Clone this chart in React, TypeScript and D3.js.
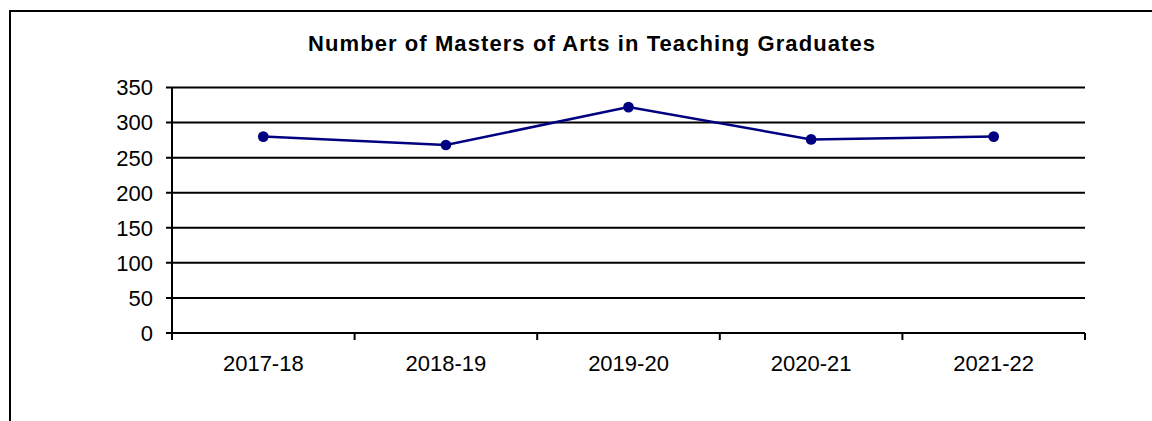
import React from 'react';
import * as d3 from 'd3';

const title = 'Number of Masters of Arts in Teaching Graduates';
const years = ['2017-18', '2018-19', '2019-20', '2020-21', '2021-22'];
const graduates = [280, 268, 322, 276, 280];
const yTicks = [0, 50, 100, 150, 200, 250, 300, 350];

export default function App() {
  const width = 1152;
  const height = 421;
  const left = 172;
  const right = 1085;
  const top = 87.5;
  const bottom = 333;

  const x = d3.scaleBand<string>().domain(years).range([left, right]);
  const y = d3.scaleLinear().domain([0, 350]).range([bottom, top]);

  const line = d3.line<number>()
    .x((_, i) => (x(years[i]) as number) + x.bandwidth() / 2)
    .y(d => y(d));

  // blurry rounded diamond markers in the original
  const marker = d3.symbol().type(d3.symbolCircle).size(90)();
  const font = 'Arial, "Liberation Sans", sans-serif';
  const bounds = years.map(c => x(c) as number).concat([right]);

  return (
    <svg width={width} height={height} style={{ position: 'absolute', left: 0, top: 0, background: '#fff' }}>
      <rect x={10} y={11} width={1300} height={600} fill="#fff" stroke="#000" strokeWidth={2} />
      <text x={308} y={51} fontFamily={font} fontWeight="bold" fontSize={22} textLength={567} lengthAdjust="spacing">{title}</text>

      {yTicks.map(t => (
        <g key={t}>
          <line x1={left - 6} x2={right} y1={y(t)} y2={y(t)} stroke="#000" strokeWidth={2} />
          <text x={153} y={y(t)} dy="0.36em" textAnchor="end" fontFamily={font} fontSize={22}>{t}</text>
        </g>
      ))}

      <line x1={left} x2={left} y1={top} y2={bottom + 7} stroke="#000" strokeWidth={2} />
      {bounds.map((b, i) => (
        <line key={i} x1={b} x2={b} y1={bottom} y2={bottom + 7} stroke="#000" strokeWidth={2} />
      ))}
      {years.map(c => (
        <text key={c} x={(x(c) as number) + x.bandwidth() / 2} y={371} textAnchor="middle" fontFamily={font} fontSize={22}>{c}</text>
      ))}

      <path d={line(graduates) || ''} fill="none" stroke="#000080" strokeWidth={2.5} />
      {graduates.map((v, i) => (
        <path key={i} d={marker} transform={`translate(${(x(years[i]) as number) + x.bandwidth() / 2},${y(v)})`} fill="#000080" />
      ))}
    </svg>
  );
}
